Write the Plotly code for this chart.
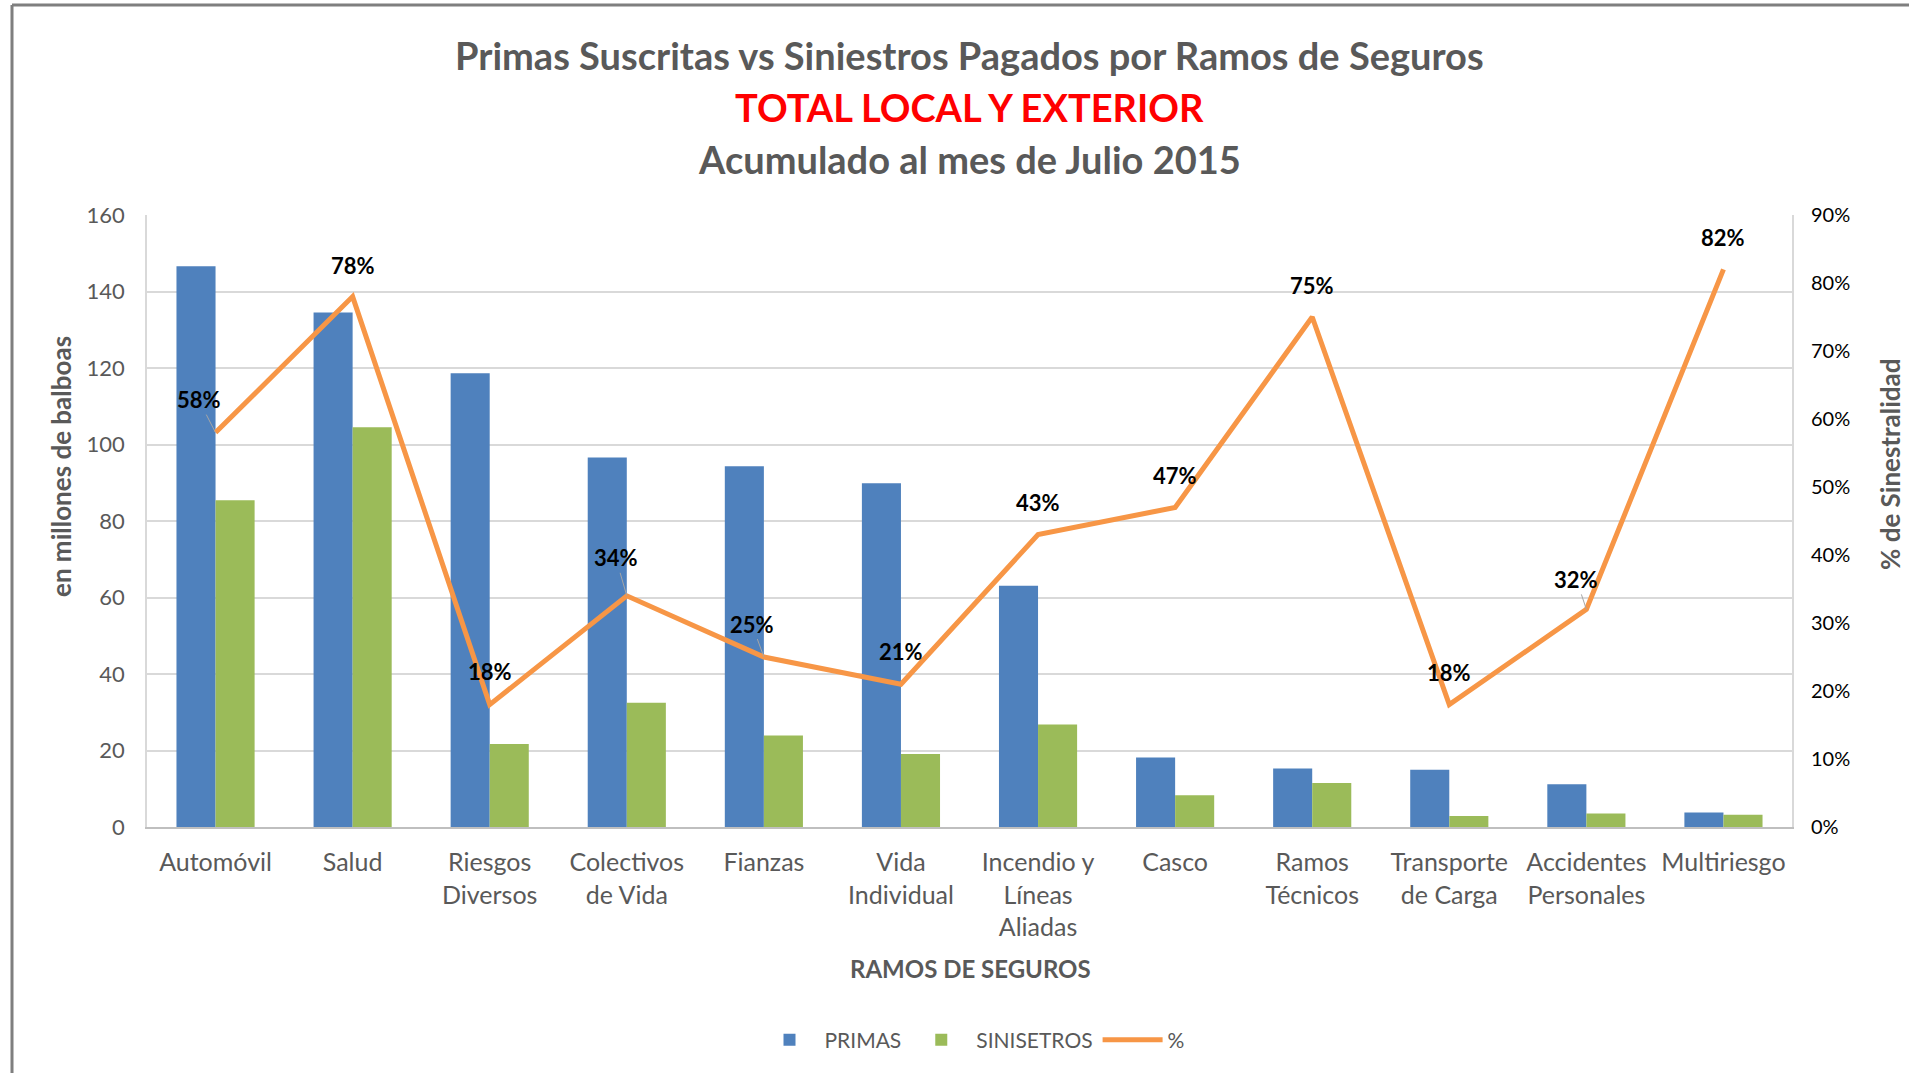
import plotly.graph_objects as go

# ---------------- data ----------------
categorias = ["Automóvil", "Salud", "Riesgos Diversos", "Colectivos de Vida", "Fianzas",
              "Vida Individual", "Incendio y Líneas Aliadas", "Casco", "Ramos Técnicos",
              "Transporte de Carga", "Accidentes Personales", "Multiriesgo"]
etiquetas = ["Automóvil", "Salud", "Riesgos<br>Diversos", "Colectivos<br>de Vida", "Fianzas",
             "Vida<br>Individual", "Incendio y<br>Líneas<br>Aliadas", "Casco", "Ramos<br>Técnicos",
             "Transporte<br>de Carga", "Accidentes<br>Personales", "Multiriesgo"]
primas = [146.6, 134.5, 118.6, 96.6, 94.3, 89.9, 63.1, 18.2, 15.3, 15.0, 11.2, 3.8]
siniestros = [85.4, 104.5, 21.7, 32.5, 23.9, 19.1, 26.8, 8.3, 11.5, 2.9, 3.5, 3.2]
porcentaje = [0.58, 0.78, 0.18, 0.34, 0.25, 0.21, 0.43, 0.47, 0.75, 0.18, 0.32, 0.82]

# ---------------- style / layout constants ----------------
W, H = 1909, 1073
ML, MR, MT, MB = 147, 117, 215, 246
PW, PH = W - ML - MR, H - MT - MB
FONT = "Lato, 'Open Sans', sans-serif"
GREY = "#595959"

def px_x(px):
    return (px - ML) / PW

def px_y(py):
    return (H - MB - py) / PH

# label offsets (pixels) relative to each point, and whether a leader line is shown
lab_dx = [-17, 0, 0, -11, -12, 0, 0, 0, 0, 0, -10, 0]
lab_dy = [-33, -31, -33, -38, -33, -33, -32, -32, -32, -32, -30, -32]
leader = [True, False, False, True, True, False, False, False, False, False, True, False]

fig = go.Figure()
fig.add_trace(go.Bar(x=categorias, y=primas, name="PRIMAS", marker_color="#4F81BD",
                     marker_line_width=0))
fig.add_trace(go.Bar(x=categorias, y=siniestros, name="SINISETROS", marker_color="#9BBB59",
                     marker_line_width=0))
fig.add_trace(go.Scatter(x=categorias, y=porcentaje, name="%", mode="lines", yaxis="y2",
                         line=dict(color="#F79646", width=5)))

annotations = []
for c, v, dx, dy, ld in zip(categorias, porcentaje, lab_dx, lab_dy, leader):
    annotations.append(dict(
        x=c, y=v, xref="x", yref="y2", text=f"<b>{v:.0%}</b>",
        showarrow=True, ax=dx, ay=dy, arrowhead=0, arrowwidth=1, standoff=0,
        arrowcolor="#A6A6A6" if ld else "rgba(0,0,0,0)",
        font=dict(family=FONT, size=22, color="#000000")))

# titles
annotations += [
    dict(text="<b>Primas Suscritas vs Siniestros Pagados por Ramos de Seguros</b>",
         x=0.5, y=px_y(55), xref="paper", yref="paper", showarrow=False,
         xanchor="center", yanchor="middle", font=dict(family=FONT, size=38, color=GREY)),
    dict(text="<b>TOTAL LOCAL Y EXTERIOR</b>",
         x=0.5, y=px_y(107), xref="paper", yref="paper", showarrow=False,
         xanchor="center", yanchor="middle", font=dict(family=FONT, size=38, color="#FF0000")),
    dict(text="<b>Acumulado al mes de Julio 2015</b>",
         x=0.5, y=px_y(159), xref="paper", yref="paper", showarrow=False,
         xanchor="center", yanchor="middle", font=dict(family=FONT, size=38, color=GREY)),
    dict(text="<b>en millones de balboas</b>", textangle=-90,
         x=px_x(61), y=px_y(467), xref="paper", yref="paper", showarrow=False,
         xanchor="center", yanchor="middle", font=dict(family=FONT, size=26, color=GREY)),
    dict(text="<b>% de Sinestralidad</b>", textangle=-90,
         x=px_x(1890), y=px_y(464), xref="paper", yref="paper", showarrow=False,
         xanchor="center", yanchor="middle", font=dict(family=FONT, size=26, color=GREY)),
    dict(text="<b>RAMOS DE SEGUROS</b>",
         x=px_x(970), y=px_y(968), xref="paper", yref="paper", showarrow=False,
         xanchor="center", yanchor="middle", font=dict(family=FONT, size=24, color=GREY)),
]

shapes = [
    dict(type="line", xref="paper", yref="paper", x0=px_x(12), x1=px_x(12),
         y0=px_y(H), y1=px_y(5), line=dict(color="#7F7F7F", width=3)),
    dict(type="line", xref="paper", yref="paper", x0=px_x(12), x1=px_x(W),
         y0=px_y(5), y1=px_y(5), line=dict(color="#7F7F7F", width=3)),
]

fig.update_layout(
    width=W, height=H,
    margin=dict(l=ML, r=MR, t=MT, b=MB, pad=0),
    paper_bgcolor="white", plot_bgcolor="white",
    barmode="group", bargap=0.43, bargroupgap=0,
    font=dict(family=FONT, color=GREY, size=21),
    annotations=annotations, shapes=shapes,
    showlegend=True,
    legend=dict(orientation="h", x=px_x(972), xanchor="center", y=px_y(1040), yanchor="middle",
                font=dict(family=FONT, size=21, color=GREY), traceorder="normal",
                itemwidth=60),
    xaxis=dict(tickmode="array", tickvals=categorias, ticktext=etiquetas,
               showline=True, linecolor="#BFBFBF", linewidth=2, ticks="",
               showgrid=False, tickfont=dict(size=25, color=GREY), ticklabelstandoff=12),
    yaxis=dict(range=[0, 160], dtick=20, showgrid=True, gridcolor="#D9D9D9", gridwidth=1.5,
               showline=True, linecolor="#D9D9D9", linewidth=1.5, mirror=True,
               zeroline=False, ticks="", tickfont=dict(size=22, color=GREY),
               ticklabelstandoff=16),
    yaxis2=dict(range=[0, 0.9], dtick=0.1, tickformat=".0%", overlaying="y", side="right",
                showgrid=False, zeroline=False, ticks="", showline=False,
                tickfont=dict(size=20, color="#000000"), ticklabelstandoff=18),
)

fig.write_html("out.html", config={"displayModeBar": False},
               post_script="document.body.style.margin='0';document.body.style.overflow='hidden';")
